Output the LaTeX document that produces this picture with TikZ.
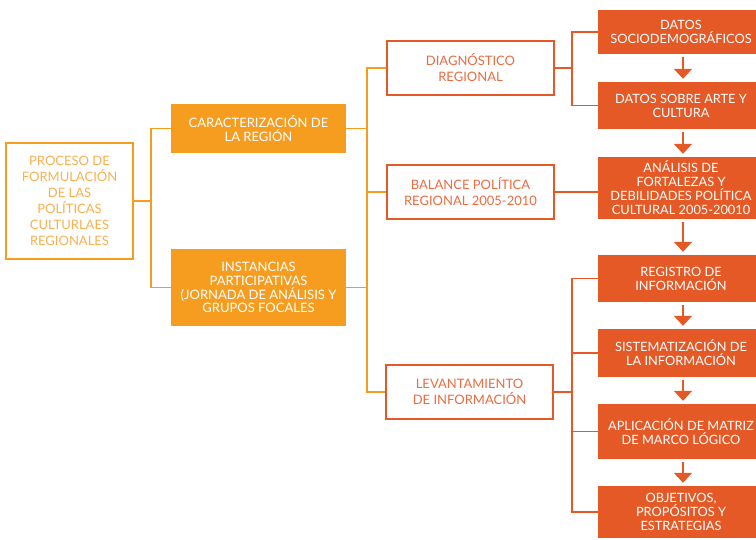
\documentclass[tikz,border=0pt]{standalone}
\usepackage{fontspec}
\setmainfont{Lato}
\usetikzlibrary{arrows.meta}

\definecolor{lightOrange}{RGB}{246,157,31}
\definecolor{darkOrange}{RGB}{229,89,38}
\definecolor{paleText}{RGB}{248,176,80}
\definecolor{redText}{RGB}{234,108,66}

\tikzset{
  paleBox/.style={draw=lightOrange,line width=1.6pt,text=paleText,align=center,inner sep=0pt,font=\fontsize{13}{16}\selectfont},
  lightBox/.style={fill=lightOrange,text=white,align=center,inner sep=0pt,font=\fontsize{13}{13.8}\selectfont},
  redBox/.style={draw=darkOrange,fill=white,line width=1.6pt,text=redText,align=center,inner sep=0pt,font=\fontsize{13}{16}\selectfont},
  darkBox/.style={fill=darkOrange,text=white,align=center,inner sep=0pt,minimum width=166pt,font=\fontsize{12.8}{14}\selectfont},
  lightLine/.style={draw=lightOrange,line width=1.6pt},
  darkLine/.style={draw=darkOrange,line width=1.6pt},
  flowArrow/.style={draw=darkOrange,line width=2pt,-{Triangle[width=18pt,length=10pt]},shorten <=3pt,shorten >=3pt}
}

\begin{document}
\begin{tikzpicture}[x=1pt,y=-1pt]
  \useasboundingbox (0,0) rectangle (756,539);
  % Left column
  \node[paleBox,minimum width=127pt,minimum height=116pt] (proceso) at (69.5,201)
    {PROCESO DE\\FORMULACIÓN\\DE LAS\\POLÍTICAS\\CULTURLAES\\REGIONALES};
  \node[lightBox,minimum width=175pt,minimum height=49pt] (caract) at (258.5,128.5)
    {CARACTERIZACIÓN DE\\LA REGIÓN};
  \node[lightBox,minimum width=175pt,minimum height=77pt] (instancias) at (258.5,287.5)
    {INSTANCIAS\\PARTICIPATIVAS\\(JORNADA DE ANÁLISIS Y\\GRUPOS FOCALES};
  % Middle column
  \node[redBox,minimum width=167pt,minimum height=54pt] (diag) at (470.5,68)
    {DIAGNÓSTICO\\REGIONAL};
  \node[redBox,minimum width=167pt,minimum height=54pt] (balance) at (470.5,192)
    {BALANCE POLÍTICA\\REGIONAL 2005-2010};
  \node[redBox,minimum width=167pt,minimum height=54pt] (levant) at (469.5,392)
    {LEVANTAMIENTO\\DE INFORMACIÓN};
  % Right column
  \node[darkBox,minimum height=44pt] (socio) at (681,32) {DATOS\\SOCIODEMOGRÁFICOS};
  \node[darkBox,minimum height=47pt] (arte) at (681,105.5) {DATOS SOBRE ARTE Y\\CULTURA};
  \node[darkBox,minimum height=62pt] (analisis) at (681,188)
    {ANÁLISIS DE\\FORTALEZAS Y\\DEBILIDADES POLÍTICA\\CULTURAL 2005-20010};
  \node[darkBox,minimum height=47pt] (registro) at (681,278.5) {REGISTRO DE\\INFORMACIÓN};
  \node[darkBox,minimum height=48pt] (sistem) at (681,353) {SISTEMATIZACIÓN DE\\LA INFORMACIÓN};
  \node[darkBox,minimum height=55pt] (aplic) at (681,431.5) {APLICACIÓN DE MATRIZ\\DE MARCO LÓGICO};
  \node[darkBox,minimum height=52pt] (objet) at (681,512) {OBJETIVOS,\\PROPÓSITOS Y\\ESTRATEGIAS};
  % Buses
  \coordinate (busA) at (151,0);
  \coordinate (busB) at (367,0);
  \coordinate (busC) at (572,0);
  \draw[lightLine] (proceso.east) -- (proceso.east -| busA);
  \draw[lightLine] (caract.west) -- (caract.west -| busA) -- (instancias.west -| busA) -- (instancias.west);
  \draw[lightLine] (caract.east) -- (caract.east -| busB);
  \draw[lightLine] (instancias.east) -- (instancias.east -| busB);
  \draw[lightLine] (diag.west) -- (diag.west -| busB) -- (levant.west -| busB) -- (levant.west);
  \draw[lightLine] (balance.west) -- (balance.west -| busB);
  \draw[darkLine] (diag.east) -- (diag.east -| busC);
  \draw[darkLine] (socio.west) -- (socio.west -| busC) -- (arte.west -| busC) -- (arte.west);
  \draw[darkLine] (balance.east) -- (balance.east -| analisis.west);
  \draw[darkLine] (levant.east) -- (levant.east -| busC);
  \draw[darkLine] (registro.west) -- (registro.west -| busC) -- (objet.west -| busC) -- (objet.west);
  \draw[darkLine] (sistem.west) -- (sistem.west -| busC);
  \draw[darkLine] (aplic.west) -- (aplic.west -| busC);
  % Arrows
  \draw[flowArrow] ([xshift=2pt]socio.south) -- ([xshift=2pt]arte.north);
  \draw[flowArrow] ([xshift=2pt]arte.south) -- ([xshift=2pt]analisis.north);
  \draw[flowArrow] ([xshift=2pt]analisis.south) -- ([xshift=2pt]registro.north);
  \draw[flowArrow] ([xshift=2pt]registro.south) -- ([xshift=2pt]sistem.north);
  \draw[flowArrow] ([xshift=2pt]sistem.south) -- ([xshift=2pt]aplic.north);
  \draw[flowArrow] ([xshift=2pt]aplic.south) -- ([xshift=2pt]objet.north);
\end{tikzpicture}
\end{document}
